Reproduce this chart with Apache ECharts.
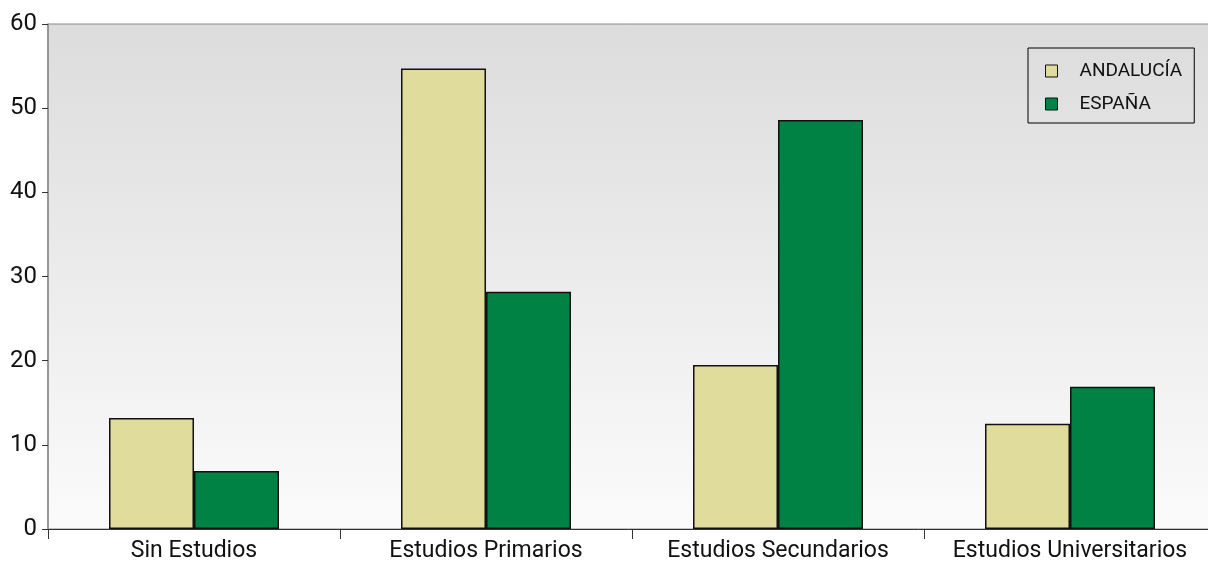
<!DOCTYPE html>
<html>
<head>
<meta charset="utf-8">
<script src="https://cdn.jsdelivr.net/npm/echarts@6/dist/echarts.min.js"></script>
<style>
  html, body { margin: 0; padding: 0; background: #ffffff; }
  #chart { width: 1208px; height: 567px; }
</style>
</head>
<body>
<div id="chart"></div>
<script>
// Nivel de estudios (%), Andalucía frente a España
const categories = ['Sin Estudios', 'Estudios Primarios', 'Estudios Secundarios', 'Estudios Universitarios'];
const andalucia = [13.2, 54.7, 19.5, 12.5];
const espana = [6.9, 28.2, 48.6, 16.9];
const seriesNames = ['ANDALUCÍA', 'ESPAÑA'];

const FONT = 'Roboto, "Liberation Sans", Arial, sans-serif';

const chart = echarts.init(document.getElementById('chart'));
chart.setOption({
  animation: false,
  textStyle: { fontFamily: FONT },
  grid: {
    left: 48, top: 24, width: 1168, height: 505,
    outerBoundsMode: 'none',
    containLabel: false,
    show: true,
    borderColor: '#8a8a8a',
    borderWidth: 1,
    backgroundColor: new echarts.graphic.LinearGradient(0, 0, 0, 1, [
      { offset: 0, color: '#dcdcdc' },
      { offset: 1, color: '#fbfbfb' }
    ])
  },
  legend: {
    data: seriesNames,
    orient: 'vertical',
    left: 1028, top: 48,
    padding: [13, 12, 9, 17],
    itemGap: 13,
    itemWidth: 12, itemHeight: 12,
    borderColor: '#000', borderWidth: 1,
    backgroundColor: 'transparent',
    textStyle: { fontFamily: FONT, fontSize: 19, lineHeight: 20, color: '#111', padding: [0, 0, 0, 17] },
    icon: 'rect',
    itemStyle: { borderColor: '#111', borderWidth: 1 }
  },
  xAxis: {
    type: 'category',
    data: categories,
    axisLine: { lineStyle: { color: '#333', width: 1 } },
    axisTick: { show: true, length: 10, lineStyle: { color: '#333' } },
    axisLabel: { fontFamily: FONT, fontSize: 23, color: '#111', margin: 11, interval: 0, hideOverlap: false },
    splitLine: { show: false }
  },
  yAxis: {
    type: 'value',
    min: 0, max: 60, interval: 10,
    axisLine: { show: true, lineStyle: { color: '#8a8a8a', width: 1.5 } },
    axisTick: { show: true, length: 6, lineStyle: { color: '#333' } },
    axisLabel: { fontFamily: FONT, fontSize: 24, color: '#111', margin: 11 },
    splitLine: { show: false }
  },
  series: [
    {
      name: seriesNames[0], type: 'bar', data: andalucia,
      barWidth: 85, barGap: '0%',
      itemStyle: { color: '#e0dc9c', borderColor: '#111', borderWidth: 1.5 }
    },
    {
      name: seriesNames[1], type: 'bar', data: espana,
      barWidth: 85, barGap: '0%',
      itemStyle: { color: '#008244', borderColor: '#111', borderWidth: 1.5 }
    }
  ]
});
</script>
</body>
</html>
